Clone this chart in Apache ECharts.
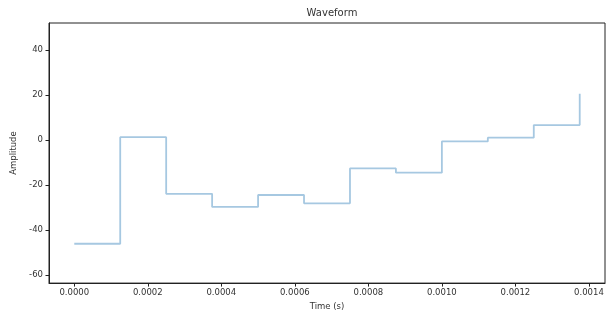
<!DOCTYPE html>
<html>
<head>
<meta charset="utf-8">
<script src="https://cdn.jsdelivr.net/npm/echarts@6/dist/echarts.min.js"></script>
<style>
  html, body { margin: 0; padding: 0; background: #fff; }
  #waveChart { width: 611px; height: 316px; }
</style>
</head>
<body>
<div id="waveChart"></div>
<script>
// sample times (s) and step amplitudes
var times = [0, 0.000125, 0.00025, 0.000375, 0.0005, 0.000625, 0.00075, 0.000875, 0.001, 0.001125, 0.00125, 0.001375];
var amplitudes = [-46.2, 1.2, -24, -29.8, -24.5, -28.2, -12.7, -14.6, -0.7, 1.0, 6.6, 20.5];

var xRange = [-0.00006875, 0.00144375];
var yRange = [-63.7, 52];

var waveEchart = echarts.init(document.getElementById('waveChart'));

var points = [];
for (var i = 0; i < times.length; i++) {
    points.push([times[i], amplitudes[i]]);
}

var txt = '#333';
var font = 'DejaVu Sans';

waveEchart.setOption({
    animation: false,
    title: {
        text: 'Waveform',
        left: 327,
        textAlign: 'center',
        top: 3,
        textStyle: { fontSize: 10, fontWeight: 'normal', color: txt, fontFamily: font }
    },
    grid: {
        left: 49,
        right: 6,
        top: 23,
        bottom: 29,
        show: true,
        borderColor: '#222',
        borderWidth: 1
    },
    xAxis: {
        type: 'value',
        min: xRange[0],
        max: xRange[1],
        splitNumber: 7,
        name: 'Time (s)',
        nameLocation: 'middle',
        nameGap: 17,
        nameTextStyle: { fontSize: 8.5, color: txt, fontFamily: font },
        axisLine: { show: true, onZero: false, lineStyle: { color: '#222' } },
        axisTick: { show: true, length: 3.5, lineStyle: { color: '#222' } },
        axisLabel: {
            showMinLabel: false,
            showMaxLabel: false,
            margin: 5,
            fontSize: 8.5,
            color: txt,
            fontFamily: font,
            formatter: function (v) { return v.toFixed(4); }
        },
        splitLine: { show: false }
    },
    yAxis: {
        type: 'value',
        min: yRange[0],
        max: yRange[1],
        splitNumber: 6,
        name: 'Amplitude',
        nameLocation: 'middle',
        nameGap: 31,
        nameTextStyle: { fontSize: 8.5, color: txt, fontFamily: font },
        axisLine: { show: true, onZero: false, lineStyle: { color: '#222' } },
        axisTick: { show: true, length: 3.5, lineStyle: { color: '#222' } },
        axisLabel: {
            showMinLabel: false,
            showMaxLabel: false,
            margin: 6,
            fontSize: 8.5,
            color: txt,
            fontFamily: font
        },
        splitLine: { show: false }
    },
    series: [{
        type: 'line',
        step: 'end',
        data: points,
        symbol: 'none',
        lineStyle: { color: '#a6c8e1', width: 1.8 }
    }]
});
</script>
</body>
</html>
